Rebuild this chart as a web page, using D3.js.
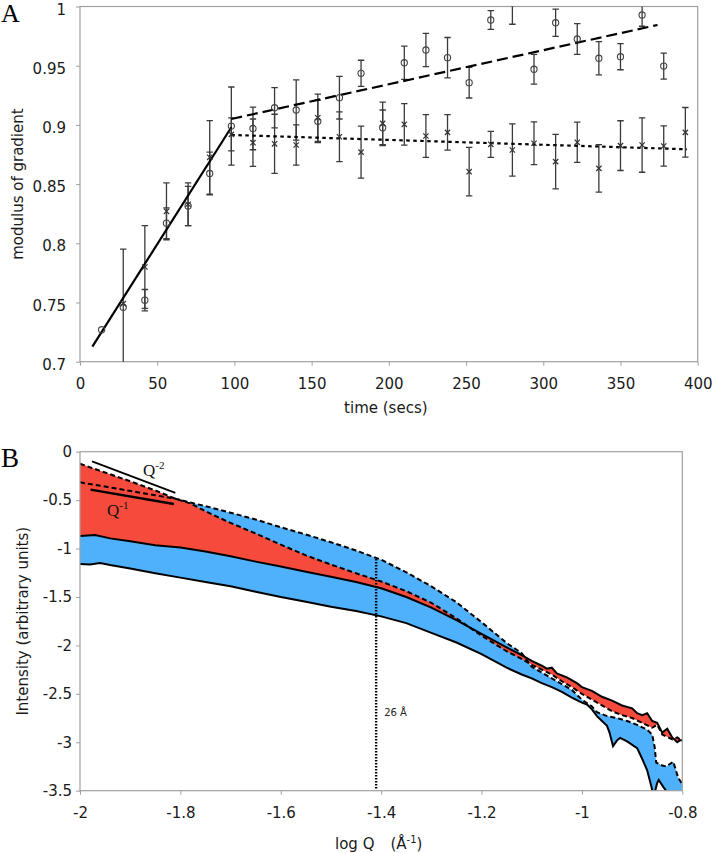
<!DOCTYPE html>
<html><head><meta charset="utf-8">
<script src="https://cdn.jsdelivr.net/npm/d3@7"></script>
<style>body{margin:0;background:#fff} svg{display:block}</style>
</head><body>
<svg id="chart" width="712" height="853"></svg>
<script>
// ---------------- Panel A data ----------------
const timesA = [14,28,42,56,70,84,98,112,126,140,154,168,182,196,210,224,238,252,266,280,294,308,322,336,350,364,378,392];
const circleVals = [0.727,0.746,0.752,0.817,0.8315,0.859,0.899,0.897,0.9145,0.9126,0.903,0.923,0.9436,0.8976,0.9525,0.9633,0.9568,0.9357,0.9886,1.003,0.947,0.9863,0.9726,0.9563,0.9576,0.9928,0.9497,null];
const circleErr  = [0,0.049,0.009,0.013,0.0165,0.018,0.033,0.018,0.017,0.0254,0.018,0.018,0.011,0.015,0.014,0.014,0.017,0.013,0.008,0.018,0.0125,0.0115,0.013,0.014,0.011,0.0095,0.011,0];
const crossVals  = [null,0.749,0.780,0.827,0.833,0.8726,0.892,0.885,0.884,0.883,0.906,0.890,0.877,0.9013,0.9005,0.8906,0.8937,0.8605,0.8836,0.8788,0.8845,0.869,0.8853,0.8633,0.8825,0.883,0.8822,0.8937];
const crossErr   = [0,0,0.035,0.024,0.018,0.031,0.014,0.020,0.025,0.017,0.020,0.021,0.022,0.018,0.0175,0.018,0.015,0.0205,0.011,0.022,0.018,0.023,0.017,0.020,0.021,0.023,0.017,0.021];
const fitRise    = [[8,0.7127],[98,0.898]];
const fitCircles = [[98,0.905],[374,0.9844]];
const fitCrosses = [[98,0.8915],[393,0.8794]];
const xTicksA = [0,50,100,150,200,250,300,350,400];
const xTickLabelsA = ["0","50","100","150","200","250","300","350","400"];
const yTicksA = [0.7,0.75,0.8,0.85,0.9,0.95,1];
const yTickLabelsA = ["0.7","0.75","0.8","0.85","0.9","0.95","1"];

// ---------------- Panel B data (log Q, log I) ----------------
const dashedSteep = [[-2.0,-0.125],[-1.95,-0.215],[-1.9,-0.305],[-1.85,-0.40],[-1.81,-0.485],[-1.78,-0.535],[-1.74,-0.64],[-1.7,-0.735],[-1.65,-0.845],[-1.6,-0.96],[-1.55,-1.07],[-1.5,-1.165],[-1.45,-1.255],[-1.4,-1.34],[-1.35,-1.44],[-1.3,-1.56],[-1.25,-1.72],[-1.2,-1.90],[-1.15,-2.06],[-1.12,-2.14],[-1.1,-2.20],[-1.08,-2.25],[-1.06,-2.30],[-1.04,-2.37],[-1.02,-2.43],[-1.0,-2.50],[-0.98,-2.56],[-0.96,-2.62],[-0.94,-2.68],[-0.92,-2.72],[-0.9,-2.75],[-0.88,-2.80],[-0.86,-2.85],[-0.85,-2.82],[-0.84,-2.92],[-0.82,-2.97],[-0.81,-2.95],[-0.8,-2.99]];
const solidUpper = [[-2.0,-0.87],[-1.97,-0.86],[-1.94,-0.895],[-1.9,-0.925],[-1.85,-0.965],[-1.8,-0.99],[-1.75,-1.03],[-1.7,-1.08],[-1.65,-1.135],[-1.6,-1.185],[-1.55,-1.24],[-1.5,-1.29],[-1.45,-1.345],[-1.4,-1.41],[-1.35,-1.50],[-1.3,-1.61],[-1.25,-1.74],[-1.2,-1.88],[-1.15,-2.02],[-1.12,-2.10],[-1.1,-2.16],[-1.08,-2.21],[-1.07,-2.24],[-1.06,-2.23],[-1.05,-2.29],[-1.03,-2.33],[-1.01,-2.39],[-1.0,-2.43],[-0.98,-2.47],[-0.96,-2.53],[-0.94,-2.57],[-0.92,-2.62],[-0.9,-2.65],[-0.89,-2.70],[-0.88,-2.72],[-0.87,-2.70],[-0.86,-2.78],[-0.85,-2.80],[-0.84,-2.90],[-0.83,-2.86],[-0.82,-2.95],[-0.81,-3.0],[-0.805,-2.98],[-0.8,-2.98]];
const dashedShallow = [[-2.0,-0.316],[-1.95,-0.36],[-1.9,-0.405],[-1.85,-0.45],[-1.81,-0.485],[-1.78,-0.525],[-1.74,-0.575],[-1.7,-0.63],[-1.65,-0.70],[-1.6,-0.78],[-1.55,-0.855],[-1.5,-0.935],[-1.45,-1.02],[-1.4,-1.115],[-1.35,-1.245],[-1.3,-1.39],[-1.25,-1.555],[-1.2,-1.76],[-1.15,-1.975],[-1.12,-2.08],[-1.1,-2.22],[-1.08,-2.28],[-1.06,-2.34],[-1.04,-2.40],[-1.02,-2.46],[-1.0,-2.56],[-0.98,-2.63],[-0.97,-2.69],[-0.95,-2.73],[-0.93,-2.75],[-0.91,-2.78],[-0.89,-2.82],[-0.87,-2.87],[-0.86,-2.92],[-0.855,-3.05],[-0.852,-3.21],[-0.84,-3.24],[-0.832,-3.25],[-0.818,-3.20],[-0.808,-3.37],[-0.8,-3.43]];
const solidLower = [[-2.0,-1.16],[-1.98,-1.165],[-1.96,-1.15],[-1.94,-1.17],[-1.9,-1.205],[-1.85,-1.255],[-1.8,-1.30],[-1.75,-1.345],[-1.7,-1.39],[-1.65,-1.445],[-1.6,-1.50],[-1.55,-1.55],[-1.5,-1.60],[-1.45,-1.645],[-1.4,-1.70],[-1.35,-1.77],[-1.3,-1.87],[-1.25,-1.97],[-1.2,-2.09],[-1.15,-2.23],[-1.12,-2.30],[-1.1,-2.34],[-1.08,-2.39],[-1.06,-2.43],[-1.04,-2.48],[-1.02,-2.54],[-1.0,-2.59],[-0.99,-2.61],[-0.98,-2.66],[-0.97,-2.73],[-0.96,-2.78],[-0.95,-2.83],[-0.945,-2.90],[-0.938,-3.04],[-0.93,-2.98],[-0.924,-2.955],[-0.91,-2.99],[-0.89,-3.06],[-0.88,-3.17],[-0.87,-3.29],[-0.862,-3.45],[-0.857,-3.56],[-0.85,-3.42],[-0.847,-3.39],[-0.838,-3.46],[-0.828,-3.53],[-0.815,-3.7],[-0.8,-3.85]];
const slopeQ2 = [[-1.976,-0.099],[-1.810,-0.426]];
const slopeQ1 = [[-1.979,-0.392],[-1.813,-0.540]];
const markerQ = -1.41, markerTop = -1.108, markerLabel = "26 Å";
const xTicksB = [-2,-1.8,-1.6,-1.4,-1.2,-1,-0.8];
const xTickLabelsB = ["-2","-1.8","-1.6","-1.4","-1.2","-1","-0.8"];
const yTicksB = [0,-0.5,-1,-1.5,-2,-2.5,-3,-3.5];
const yTickLabelsB = ["0","-0.5","-1","-1.5","-2","-2.5","-3","-3.5"];

// ---------------- drawing ----------------
const svg = d3.select('#chart');
svg.append('rect').attr('width',712).attr('height',853).attr('fill','#fff');
const FONT = '"DejaVu Sans", Verdana, sans-serif';
const SERIF = '"Liberation Serif", "Times New Roman", serif';
const AXC = '#a0a0a0', TXT = '#1a1a1a';

function axes(x, y, box, xt, xl, yt, yl, yPad, yDy) {
  const gx = svg.append('g').attr('transform',`translate(0,${box.b})`)
    .call(d3.axisBottom(x).tickValues(xt).tickSize(4).tickPadding(12.6).tickFormat((d,i)=>xl[i]));
  const gy = svg.append('g').attr('transform',`translate(${box.l},0)`)
    .call(d3.axisLeft(y).tickValues(yt).tickSize(4).tickPadding(yPad).tickFormat((d,i)=>yl[i]));
  [gx,gy].forEach(g=>{
    g.select('.domain').remove();
    g.selectAll('line').attr('stroke',AXC);
    g.selectAll('text').attr('font-family',FONT).attr('font-size',15).attr('fill',TXT);
  });
  gy.selectAll('text').attr('dy',yDy);
  svg.append('rect').attr('x',box.l).attr('y',box.t).attr('width',box.r-box.l).attr('height',box.b-box.t)
    .attr('fill','none').attr('stroke',AXC).attr('stroke-width',1.2);
}

// ----- Panel A -----
const bA = {l:80, r:697.7, t:6.5, b:361.7};
const xA = d3.scaleLinear().domain([0,400]).range([bA.l,bA.r]);
const yA = d3.scaleLinear().domain([0.7,1]).range([bA.b,bA.t]);
svg.append('clipPath').attr('id','clipA').append('rect')
  .attr('x',bA.l).attr('y',bA.t).attr('width',bA.r-bA.l).attr('height',bA.b-bA.t);
axes(xA,yA,bA,xTicksA,xTickLabelsA,yTicksA,yTickLabelsA,10,'0.5em');
const gA = svg.append('g').attr('clip-path','url(#clipA)');

function errorBars(vals, errs, color) {
  const pts = timesA.map((t,i)=>({t, v:vals[i], e:errs[i]})).filter(d=>d.v!==null && d.e>0);
  const g = gA.append('g').attr('stroke',color).attr('stroke-width',1.3);
  g.selectAll('.v').data(pts).join('line')
    .attr('x1',d=>xA(d.t)).attr('x2',d=>xA(d.t)).attr('y1',d=>yA(d.v-d.e)).attr('y2',d=>yA(d.v+d.e));
  [-1,1].forEach(s=>{
    g.selectAll('.c'+s).data(pts).join('line')
      .attr('x1',d=>xA(d.t)-3.2).attr('x2',d=>xA(d.t)+3.2)
      .attr('y1',d=>yA(d.v+s*d.e)).attr('y2',d=>yA(d.v+s*d.e));
  });
}
errorBars(circleVals, circleErr, '#3a3a3a');
errorBars(crossVals, crossErr, '#3a3a3a');

const lineA = d3.line().x(d=>xA(d[0])).y(d=>yA(d[1]));
gA.append('path').attr('d',lineA(fitRise)).attr('fill','none').attr('stroke','#000').attr('stroke-width',2.2);
gA.append('path').attr('d',lineA(fitCircles)).attr('fill','none').attr('stroke','#000').attr('stroke-width',2.2).attr('stroke-dasharray','11,5');
gA.append('path').attr('d',lineA(fitCrosses)).attr('fill','none').attr('stroke','#000').attr('stroke-width',2.2).attr('stroke-dasharray','3.5,3.5');

const circPts = timesA.map((t,i)=>({t,v:circleVals[i]})).filter(d=>d.v!==null);
gA.append('g').selectAll('circle').data(circPts).join('circle')
  .attr('cx',d=>xA(d.t)).attr('cy',d=>yA(d.v)).attr('r',3.1)
  .attr('fill','none').attr('stroke','#444').attr('stroke-width',1.1);
const crossPts = timesA.map((t,i)=>({t,v:crossVals[i]})).filter(d=>d.v!==null);
gA.append('g').selectAll('path').data(crossPts).join('path')
  .attr('transform',d=>`translate(${xA(d.t)},${yA(d.v)})`)
  .attr('d',d3.symbol(d3.symbolX).size(20))
  .attr('fill','none').attr('stroke','#333').attr('stroke-width',1.2);

svg.append('text').attr('x',1).attr('y',22).attr('font-family',SERIF).attr('font-size',26).attr('fill','#000').text('A');
svg.append('text').attr('transform',`translate(23,${(bA.t+bA.b)/2}) rotate(-90)`).attr('text-anchor','middle')
  .attr('font-family',FONT).attr('font-size',15).attr('fill',TXT).text('modulus of gradient');
svg.append('text').attr('x',(bA.l+bA.r)/2-3).attr('y',413).attr('text-anchor','middle')
  .attr('font-family',FONT).attr('font-size',15).attr('fill',TXT).text('time (secs)');

// ----- Panel B -----
const bB = {l:80, r:682.3, t:451.7, b:790.7};
const xB = d3.scaleLinear().domain([-2,-0.8]).range([bB.l,bB.r]);
const yB = d3.scaleLinear().domain([-3.5,0]).range([bB.b,bB.t]);
svg.append('clipPath').attr('id','clipB').append('rect')
  .attr('x',bB.l).attr('y',bB.t).attr('width',bB.r-bB.l).attr('height',bB.b-bB.t);
const gB = svg.append('g').attr('clip-path','url(#clipB)');
const lineB = d3.line().x(d=>xB(d[0])).y(d=>yB(d[1]));
const polyB = d3.line().x(d=>xB(d[0])).y(d=>yB(d[1])).curve(d3.curveLinearClosed);

gB.append('path').attr('d',polyB(dashedShallow.concat(solidLower.slice().reverse()))).attr('fill','#4fb0fb').attr('stroke','none');
gB.append('path').attr('d',polyB(dashedSteep.concat(solidUpper.slice().reverse()))).attr('fill','#f64b3c').attr('stroke','none');

gB.append('path').attr('d',lineB(solidUpper)).attr('fill','none').attr('stroke','#000').attr('stroke-width',2);
gB.append('path').attr('d',lineB(solidLower)).attr('fill','none').attr('stroke','#000').attr('stroke-width',2);
gB.append('path').attr('d',lineB(dashedSteep)).attr('fill','none').attr('stroke','#000').attr('stroke-width',2).attr('stroke-dasharray','5,3');
gB.append('path').attr('d',lineB(dashedShallow)).attr('fill','none').attr('stroke','#000').attr('stroke-width',2).attr('stroke-dasharray','5,3');

gB.append('path').attr('d',lineB(slopeQ2)).attr('fill','none').attr('stroke','#000').attr('stroke-width',1.8);
gB.append('path').attr('d',lineB(slopeQ1)).attr('fill','none').attr('stroke','#000').attr('stroke-width',2.4);

gB.append('path').attr('d',lineB([[markerQ,markerTop],[markerQ,-3.5]])).attr('fill','none')
  .attr('stroke','#000').attr('stroke-width',2.4).attr('stroke-dasharray','1.6,1.4');

axes(xB,yB,bB,xTicksB,xTickLabelsB,yTicksB,yTickLabelsB,4,'0.32em');

const q2 = svg.append('text').attr('x',143).attr('y',476).attr('font-family',SERIF).attr('font-size',17).attr('fill','#111');
q2.append('tspan').text('Q');
q2.append('tspan').attr('font-size',11).attr('dy',-7).text('-2');
const q1 = svg.append('text').attr('x',107).attr('y',516).attr('font-family',SERIF).attr('font-size',17).attr('fill','#111');
q1.append('tspan').text('Q');
q1.append('tspan').attr('font-size',11).attr('dy',-7).text('-1');

svg.append('text').attr('x',xB(markerQ)+8).attr('y',716).attr('font-family',FONT).attr('font-size',10).attr('fill','#222').text(markerLabel);

svg.append('text').attr('x',1).attr('y',467).attr('font-family',SERIF).attr('font-size',27).attr('fill','#000').text('B');
svg.append('text').attr('transform',`translate(28,${(bB.t+bB.b)/2}) rotate(-90)`).attr('text-anchor','middle')
  .attr('font-family',FONT).attr('font-size',15).attr('fill',TXT).text('Intensity (arbitrary units)');
const xl = svg.append('text').attr('x',335).attr('y',849).attr('font-family',FONT).attr('font-size',15).attr('fill',TXT);
xl.append('tspan').text('log Q');
xl.append('tspan').attr('dx',16).text('(Å');
xl.append('tspan').attr('font-size',10).attr('dy',-6).text('-1');
xl.append('tspan').attr('dy',6).text(')');
</script>
</body></html>
